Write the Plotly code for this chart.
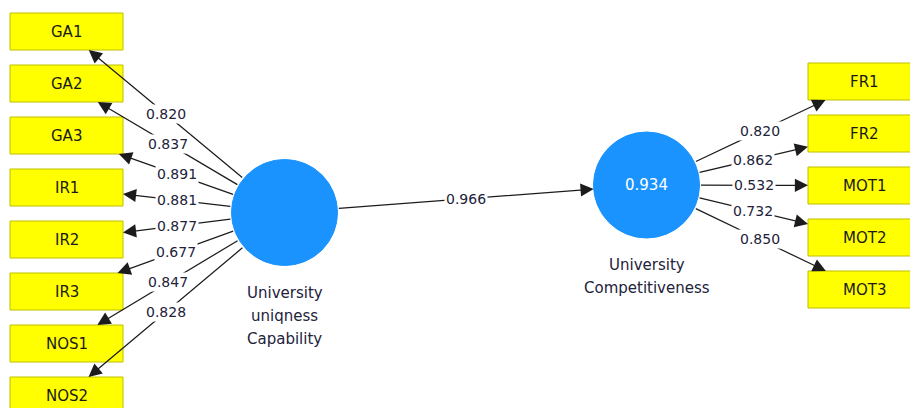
import plotly.graph_objects as go
import math

# ---------------- data ----------------
left_indicators = ["GA1", "GA2", "GA3", "IR1", "IR2", "IR3", "NOS1", "NOS2"]
left_loadings = [0.820, 0.837, 0.891, 0.881, 0.877, 0.677, 0.847, 0.828]
right_indicators = ["FR1", "FR2", "MOT1", "MOT2", "MOT3"]
right_loadings = [0.820, 0.862, 0.532, 0.732, 0.850]
latent_left_name = ["University", "uniqness", "Capability"]
latent_right_name = ["University", "Competitiveness"]
path_coefficient = 0.966
r_squared = 0.934

# ---------------- layout / style ----------------
W, H = 910, 408
BOX_W, BOX_H = 113, 37
LEFT_X0 = 10
LEFT_TOP0 = 13
RIGHT_X0 = 808
RIGHT_TOP0 = 63
STEP = 52
C_LEFT = (284.5, 212.5)
C_RIGHT = (646.5, 185.0)
R = 53
BOX_FILL = "#FFFF00"
BOX_LINE = "#BEBE00"
CIRCLE_FILL = "#1A93FF"
LINE_COL = "#1c1c1c"
TEXT_COL = "#22223a"
FONT = "DejaVu Sans"

fig = go.Figure()
shapes = []
annotations = []


def seg(c, b, hw=None, hh=None, r_end=None):
    """Segment from circle c (radius R) toward b, clipped at a box or circle."""
    dx, dy = b[0] - c[0], b[1] - c[1]
    L = math.hypot(dx, dy)
    t0 = R / L
    if r_end is not None:
        t1 = 1 - r_end / L
    else:
        cands = []
        if abs(dx) > 1e-9:
            cands.append(hw / abs(dx))
        if abs(dy) > 1e-9:
            cands.append(hh / abs(dy))
        t1 = 1 - min(cands)
    s = (c[0] + t0 * dx, c[1] + t0 * dy)
    e = (c[0] + t1 * dx, c[1] + t1 * dy)
    return s, e


def arrow(s, e):
    annotations.append(dict(
        x=e[0], y=e[1], ax=s[0], ay=s[1], xref="x", yref="y", axref="x", ayref="y",
        text="", showarrow=True, arrowhead=2, arrowsize=2.1, arrowwidth=1.25,
        arrowcolor=LINE_COL, standoff=0, startstandoff=0))


def label(x, y, txt, size=14, color=TEXT_COL, bg="white", pad=0):
    annotations.append(dict(
        x=x, y=y, xref="x", yref="y", text=txt, showarrow=False,
        font=dict(family=FONT, size=size, color=color), bgcolor=bg, borderpad=pad,
        xanchor="center", yanchor="middle"))


labels_later = []


def indicators(names, vals, x0, top0, center):
    for i, (name, val) in enumerate(zip(names, vals)):
        y0 = top0 + i * STEP
        shapes.append(dict(type="rect", xref="x", yref="y", x0=x0, x1=x0 + BOX_W,
                           y0=y0, y1=y0 + BOX_H, fillcolor=BOX_FILL,
                           line=dict(color=BOX_LINE, width=1), layer="below"))
        bc = (x0 + BOX_W / 2, y0 + BOX_H / 2)
        label(bc[0], bc[1], name, size=15, color="#1a1a1a", bg="rgba(0,0,0,0)")
        s, e = seg(center, bc, hw=BOX_W / 2, hh=BOX_H / 2)
        arrow(s, e)
        labels_later.append(((s[0] + e[0]) / 2, (s[1] + e[1]) / 2, f"{val:.3f}"))


indicators(left_indicators, left_loadings, LEFT_X0, LEFT_TOP0, C_LEFT)
indicators(right_indicators, right_loadings, RIGHT_X0, RIGHT_TOP0, C_RIGHT)

# structural path
s, e = seg(C_LEFT, C_RIGHT, r_end=R)
arrow(s, e)
labels_later.append(((s[0] + e[0]) / 2, (s[1] + e[1]) / 2, f"{path_coefficient:.3f}"))

for (x, y, t) in labels_later:
    label(x, y, t, size=14, pad=1)

# latent circles
for c in (C_LEFT, C_RIGHT):
    shapes.append(dict(type="circle", xref="x", yref="y", x0=c[0] - R, x1=c[0] + R,
                       y0=c[1] - R, y1=c[1] + R, fillcolor=CIRCLE_FILL,
                       line=dict(color=CIRCLE_FILL, width=1), layer="above"))

annotations.append(dict(x=C_RIGHT[0], y=C_RIGHT[1], xref="x", yref="y",
                        text=f"{r_squared:.3f}", showarrow=False,
                        font=dict(family=FONT, size=15, color="white")))

for j, line in enumerate(latent_left_name):
    label(C_LEFT[0], 293 + j * 23, line, size=15, bg="rgba(0,0,0,0)")
for j, line in enumerate(latent_right_name):
    label(C_RIGHT[0], 265 + j * 23, line, size=15, bg="rgba(0,0,0,0)")

fig.add_trace(go.Scatter(x=[0, W], y=[0, H], mode="markers",
                         marker=dict(opacity=0), hoverinfo="skip", showlegend=False))

fig.update_layout(
    width=W, height=H, margin=dict(l=0, r=0, t=0, b=0),
    paper_bgcolor="white", plot_bgcolor="white",
    xaxis=dict(range=[0, W], visible=False, fixedrange=True),
    yaxis=dict(range=[H, 0], visible=False, fixedrange=True),
    shapes=shapes, annotations=annotations, showlegend=False,
)

fig.write_html("out.html", config={"displayModeBar": False},
               post_script="document.body.style.margin='0';document.body.style.overflow='hidden';")
